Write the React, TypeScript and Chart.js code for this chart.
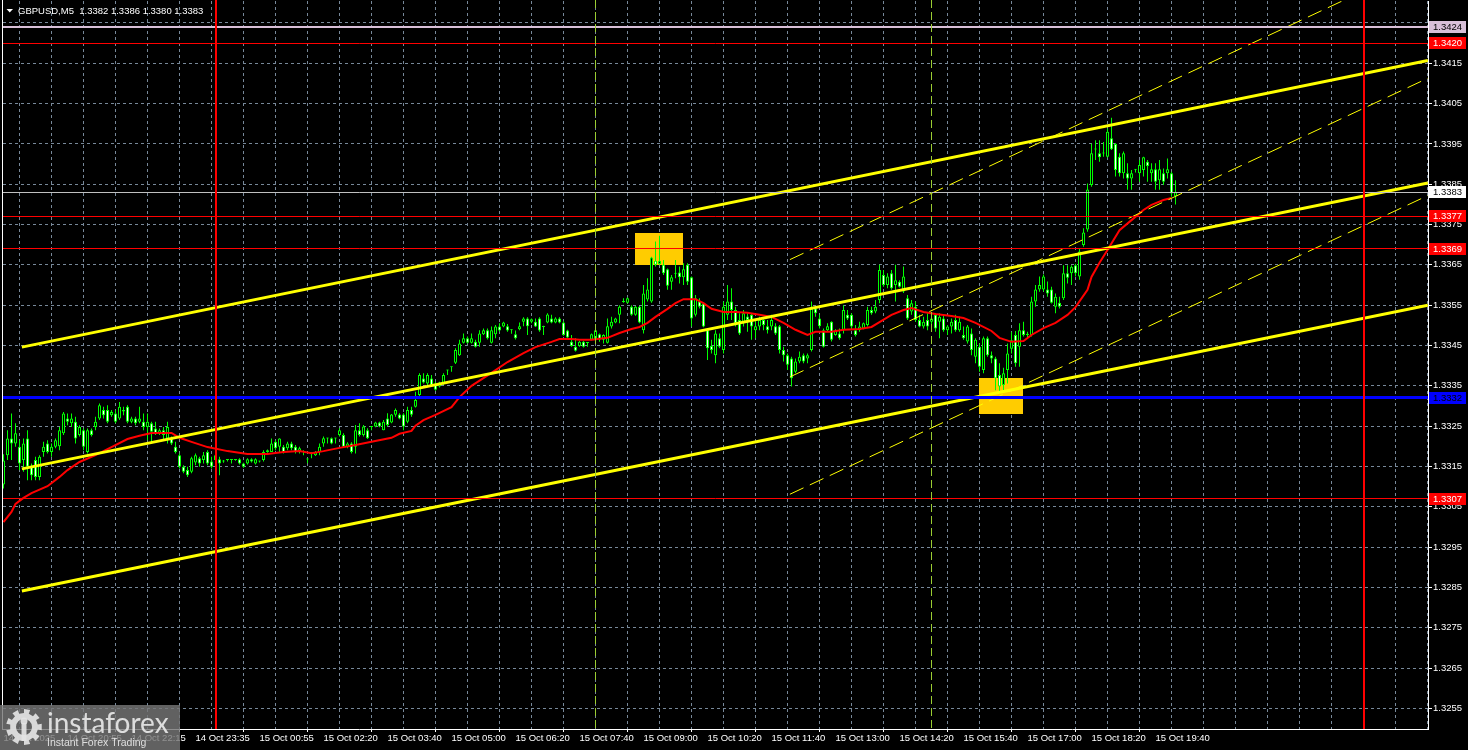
import React, { useEffect, useRef } from "react";
import { Chart, registerables } from "chart.js";

Chart.register(...registerables);

// ---------------- DATA ----------------
// GBPUSD M5 bars; bar index 0 = 14 Oct 23:35, first visible bar index = -48
const FIRST_BAR = -48;

const opens = [
  1.33105, 1.33178, 1.33219, 1.33207, 1.33199, 1.33166, 1.33219, 1.33149, 1.33166, 1.33124,
  1.33186, 1.33207, 1.33186, 1.33199, 1.33200, 1.33232, 1.33269, 1.33257, 1.33261, 1.33228,
  1.33240, 1.33186, 1.33240, 1.33248, 1.33269, 1.33290, 1.33290, 1.33277, 1.33281, 1.33269,
  1.33290, 1.33298, 1.33261, 1.33269, 1.33261, 1.33261, 1.33248, 1.33257, 1.33244, 1.33232,
  1.33240, 1.33219, 1.33219, 1.33199, 1.33178, 1.33149, 1.33141, 1.33137, 1.33160, 1.33170,
  1.33166, 1.33186, 1.33162, 1.33166, 1.33168, 1.33162, 1.33166, 1.33166, 1.33166, 1.33168,
  1.33157, 1.33157, 1.33168, 1.33157, 1.33162, 1.33166, 1.33186, 1.33186, 1.33211, 1.33199,
  1.33199, 1.33195, 1.33207, 1.33199, 1.33186, 1.33187, 1.33168, 1.33180, 1.33178, 1.33186,
  1.33207, 1.33220, 1.33220, 1.33219, 1.33228, 1.33228, 1.33199, 1.33207, 1.33199, 1.33240,
  1.33228, 1.33240, 1.33248, 1.33249, 1.33259, 1.33240, 1.33269, 1.33259, 1.33278, 1.33279,
  1.33279, 1.33261, 1.33290, 1.33298, 1.33327, 1.33368, 1.33356, 1.33368, 1.33356, 1.33348,
  1.33356, 1.33388, 1.33396, 1.33407, 1.33426, 1.33457, 1.33468, 1.33457, 1.33459, 1.33457,
  1.33478, 1.33488, 1.33457, 1.33478, 1.33497, 1.33497, 1.33498, 1.33488, 1.33478, 1.33490,
  1.33509, 1.33517, 1.33509, 1.33509, 1.33517, 1.33496, 1.33507, 1.33517, 1.33507, 1.33517,
  1.33507, 1.33487, 1.33459, 1.33447, 1.33449, 1.33459, 1.33456, 1.33465, 1.33465, 1.33478,
  1.33464, 1.33457, 1.33497, 1.33507, 1.33526, 1.33558, 1.33556, 1.33546, 1.33526, 1.33546,
  1.33488, 1.33564, 1.33559, 1.33660, 1.33652, 1.33650, 1.33639, 1.33608, 1.33628, 1.33631,
  1.33619, 1.33650, 1.33619, 1.33526, 1.33559, 1.33554, 1.33488, 1.33449, 1.33426, 1.33468,
  1.33439, 1.33526, 1.33559, 1.33538, 1.33513, 1.33505, 1.33522, 1.33526, 1.33488, 1.33497,
  1.33513, 1.33498, 1.33497, 1.33498, 1.33498, 1.33439, 1.33426, 1.33418, 1.33385, 1.33410,
  1.33426, 1.33418, 1.33439, 1.33542, 1.33517, 1.33488, 1.33488, 1.33509, 1.33476, 1.33480,
  1.33488, 1.33526, 1.33526, 1.33488, 1.33488, 1.33492, 1.33501, 1.33538, 1.33534, 1.33563,
  1.33625, 1.33600, 1.33629, 1.33600, 1.33608, 1.33584, 1.33567, 1.33534, 1.33546, 1.33513,
  1.33497, 1.33513, 1.33509, 1.33526, 1.33509, 1.33517, 1.33488, 1.33497, 1.33513, 1.33488,
  1.33476, 1.33460, 1.33480, 1.33422, 1.33447, 1.33389, 1.33468, 1.33426, 1.33418, 1.33377,
  1.33352, 1.33389, 1.33442, 1.33476, 1.33447, 1.33488, 1.33476, 1.33476, 1.33559, 1.33589,
  1.33589, 1.33589, 1.33589, 1.33546, 1.33556, 1.33567, 1.33629, 1.33629, 1.33649, 1.33621,
  1.33699, 1.33738, 1.33848, 1.33936, 1.33927, 1.33926, 1.33918, 1.33964, 1.33950, 1.33918,
  1.33877, 1.33877, 1.33864, 1.33886, 1.33877, 1.33885, 1.33906, 1.33877, 1.33887, 1.33860,
  1.33877, 1.33877, 1.33877, 1.33820,
];

const highs = [
  1.33180, 1.33240, 1.33281, 1.33257, 1.33215, 1.33219, 1.33240, 1.33157, 1.33174, 1.33178,
  1.33211, 1.33215, 1.33207, 1.33219, 1.33248, 1.33285, 1.33281, 1.33281, 1.33273, 1.33252,
  1.33244, 1.33244, 1.33244, 1.33273, 1.33306, 1.33298, 1.33302, 1.33290, 1.33290, 1.33310,
  1.33298, 1.33302, 1.33273, 1.33273, 1.33298, 1.33281, 1.33281, 1.33261, 1.33261, 1.33244,
  1.33248, 1.33261, 1.33224, 1.33211, 1.33182, 1.33153, 1.33149, 1.33174, 1.33182, 1.33174,
  1.33186, 1.33190, 1.33174, 1.33182, 1.33174, 1.33166, 1.33168, 1.33168, 1.33168, 1.33170,
  1.33159, 1.33170, 1.33170, 1.33170, 1.33164, 1.33190, 1.33192, 1.33219, 1.33215, 1.33220,
  1.33203, 1.33211, 1.33211, 1.33203, 1.33199, 1.33190, 1.33170, 1.33186, 1.33188, 1.33207,
  1.33224, 1.33221, 1.33222, 1.33221, 1.33245, 1.33232, 1.33210, 1.33210, 1.33253, 1.33257,
  1.33253, 1.33245, 1.33250, 1.33261, 1.33261, 1.33265, 1.33282, 1.33280, 1.33294, 1.33282,
  1.33282, 1.33298, 1.33298, 1.33335, 1.33381, 1.33381, 1.33381, 1.33377, 1.33360, 1.33360,
  1.33381, 1.33390, 1.33398, 1.33443, 1.33464, 1.33480, 1.33472, 1.33480, 1.33464, 1.33488,
  1.33492, 1.33492, 1.33497, 1.33501, 1.33505, 1.33509, 1.33503, 1.33490, 1.33487, 1.33507,
  1.33520, 1.33520, 1.33517, 1.33517, 1.33520, 1.33499, 1.33530, 1.33526, 1.33520, 1.33520,
  1.33510, 1.33489, 1.33476, 1.33468, 1.33461, 1.33461, 1.33458, 1.33480, 1.33490, 1.33480,
  1.33478, 1.33517, 1.33521, 1.33519, 1.33550, 1.33567, 1.33569, 1.33550, 1.33548, 1.33548,
  1.33600, 1.33617, 1.33670, 1.33708, 1.33722, 1.33662, 1.33641, 1.33625, 1.33662, 1.33646,
  1.33654, 1.33654, 1.33621, 1.33575, 1.33567, 1.33556, 1.33492, 1.33464, 1.33488, 1.33480,
  1.33559, 1.33600, 1.33592, 1.33546, 1.33530, 1.33538, 1.33530, 1.33530, 1.33513, 1.33521,
  1.33515, 1.33513, 1.33526, 1.33505, 1.33501, 1.33447, 1.33430, 1.33422, 1.33418, 1.33435,
  1.33430, 1.33430, 1.33559, 1.33546, 1.33526, 1.33492, 1.33505, 1.33510, 1.33490, 1.33492,
  1.33550, 1.33538, 1.33530, 1.33501, 1.33509, 1.33507, 1.33546, 1.33546, 1.33563, 1.33650,
  1.33637, 1.33629, 1.33637, 1.33650, 1.33612, 1.33646, 1.33575, 1.33563, 1.33559, 1.33526,
  1.33521, 1.33530, 1.33526, 1.33530, 1.33530, 1.33526, 1.33501, 1.33517, 1.33526, 1.33521,
  1.33497, 1.33501, 1.33492, 1.33468, 1.33455, 1.33472, 1.33472, 1.33435, 1.33422, 1.33406,
  1.33395, 1.33455, 1.33484, 1.33486, 1.33505, 1.33509, 1.33484, 1.33571, 1.33600, 1.33621,
  1.33626, 1.33609, 1.33596, 1.33579, 1.33571, 1.33649, 1.33649, 1.33649, 1.33653, 1.33691,
  1.33741, 1.33852, 1.33951, 1.33959, 1.33959, 1.33955, 1.33988, 1.34015, 1.33952, 1.33927,
  1.33931, 1.33902, 1.33885, 1.33888, 1.33910, 1.33918, 1.33910, 1.33902, 1.33902, 1.33910,
  1.33889, 1.33914, 1.33881, 1.33860,
];

const lows = [
  1.33095, 1.33166, 1.33166, 1.33199, 1.33141, 1.33137, 1.33116, 1.33116, 1.33116, 1.33116,
  1.33174, 1.33182, 1.33174, 1.33195, 1.33190, 1.33228, 1.33252, 1.33248, 1.33207, 1.33224,
  1.33190, 1.33182, 1.33224, 1.33240, 1.33265, 1.33269, 1.33257, 1.33273, 1.33257, 1.33265,
  1.33277, 1.33257, 1.33257, 1.33252, 1.33257, 1.33240, 1.33215, 1.33207, 1.33228, 1.33228,
  1.33215, 1.33207, 1.33203, 1.33182, 1.33145, 1.33133, 1.33124, 1.33133, 1.33153, 1.33149,
  1.33157, 1.33153, 1.33145, 1.33141, 1.33128, 1.33159, 1.33162, 1.33157, 1.33164, 1.33155,
  1.33147, 1.33155, 1.33160, 1.33155, 1.33160, 1.33162, 1.33184, 1.33186, 1.33190, 1.33186,
  1.33182, 1.33190, 1.33190, 1.33182, 1.33182, 1.33178, 1.33158, 1.33170, 1.33176, 1.33178,
  1.33199, 1.33207, 1.33205, 1.33207, 1.33224, 1.33197, 1.33195, 1.33182, 1.33182, 1.33224,
  1.33224, 1.33218, 1.33240, 1.33247, 1.33247, 1.33240, 1.33249, 1.33257, 1.33273, 1.33267,
  1.33240, 1.33257, 1.33273, 1.33296, 1.33323, 1.33356, 1.33352, 1.33348, 1.33338, 1.33346,
  1.33352, 1.33377, 1.33385, 1.33404, 1.33424, 1.33455, 1.33455, 1.33455, 1.33445, 1.33447,
  1.33476, 1.33465, 1.33455, 1.33468, 1.33485, 1.33495, 1.33484, 1.33479, 1.33465, 1.33488,
  1.33498, 1.33476, 1.33505, 1.33496, 1.33484, 1.33476, 1.33505, 1.33505, 1.33505, 1.33505,
  1.33474, 1.33465, 1.33447, 1.33435, 1.33447, 1.33445, 1.33447, 1.33463, 1.33455, 1.33459,
  1.33455, 1.33455, 1.33492, 1.33505, 1.33505, 1.33556, 1.33554, 1.33524, 1.33524, 1.33505,
  1.33480, 1.33559, 1.33556, 1.33646, 1.33650, 1.33625, 1.33588, 1.33588, 1.33617, 1.33604,
  1.33600, 1.33600, 1.33497, 1.33522, 1.33542, 1.33495, 1.33414, 1.33430, 1.33406, 1.33443,
  1.33430, 1.33513, 1.33513, 1.33497, 1.33476, 1.33497, 1.33484, 1.33464, 1.33468, 1.33488,
  1.33488, 1.33480, 1.33488, 1.33476, 1.33430, 1.33410, 1.33389, 1.33348, 1.33381, 1.33406,
  1.33406, 1.33406, 1.33435, 1.33521, 1.33492, 1.33445, 1.33484, 1.33460, 1.33474, 1.33464,
  1.33480, 1.33513, 1.33488, 1.33472, 1.33484, 1.33490, 1.33497, 1.33526, 1.33530, 1.33555,
  1.33596, 1.33592, 1.33588, 1.33559, 1.33594, 1.33580, 1.33513, 1.33526, 1.33509, 1.33495,
  1.33492, 1.33488, 1.33488, 1.33484, 1.33468, 1.33484, 1.33476, 1.33480, 1.33484, 1.33484,
  1.33464, 1.33455, 1.33426, 1.33406, 1.33385, 1.33381, 1.33422, 1.33406, 1.33339, 1.33331,
  1.33335, 1.33356, 1.33430, 1.33397, 1.33397, 1.33472, 1.33468, 1.33472, 1.33546, 1.33583,
  1.33584, 1.33571, 1.33554, 1.33530, 1.33542, 1.33563, 1.33604, 1.33600, 1.33621, 1.33613,
  1.33695, 1.33732, 1.33844, 1.33910, 1.33906, 1.33918, 1.33916, 1.33935, 1.33869, 1.33869,
  1.33864, 1.33836, 1.33836, 1.33879, 1.33856, 1.33869, 1.33856, 1.33856, 1.33836, 1.33836,
  1.33848, 1.33864, 1.33819, 1.33800,
];

const closes = [
  1.33165, 1.33219, 1.33207, 1.33232, 1.33157, 1.33207, 1.33149, 1.33128, 1.33124, 1.33174,
  1.33199, 1.33186, 1.33199, 1.33215, 1.33240, 1.33281, 1.33261, 1.33269, 1.33219, 1.33248,
  1.33199, 1.33240, 1.33228, 1.33261, 1.33302, 1.33277, 1.33261, 1.33285, 1.33261, 1.33298,
  1.33286, 1.33261, 1.33269, 1.33257, 1.33269, 1.33248, 1.33261, 1.33236, 1.33232, 1.33240,
  1.33228, 1.33248, 1.33207, 1.33186, 1.33149, 1.33137, 1.33128, 1.33170, 1.33178, 1.33157,
  1.33178, 1.33157, 1.33149, 1.33178, 1.33157, 1.33162, 1.33166, 1.33166, 1.33166, 1.33157,
  1.33149, 1.33168, 1.33162, 1.33168, 1.33162, 1.33186, 1.33190, 1.33207, 1.33195, 1.33219,
  1.33186, 1.33207, 1.33195, 1.33186, 1.33195, 1.33186, 1.33167, 1.33182, 1.33186, 1.33199,
  1.33220, 1.33219, 1.33207, 1.33220, 1.33240, 1.33199, 1.33207, 1.33186, 1.33240, 1.33228,
  1.33249, 1.33220, 1.33249, 1.33259, 1.33249, 1.33261, 1.33253, 1.33279, 1.33290, 1.33269,
  1.33249, 1.33290, 1.33278, 1.33315, 1.33377, 1.33358, 1.33377, 1.33352, 1.33340, 1.33358,
  1.33377, 1.33389, 1.33397, 1.33439, 1.33455, 1.33468, 1.33457, 1.33468, 1.33447, 1.33480,
  1.33488, 1.33468, 1.33488, 1.33497, 1.33487, 1.33507, 1.33487, 1.33489, 1.33468, 1.33498,
  1.33517, 1.33498, 1.33515, 1.33497, 1.33487, 1.33497, 1.33527, 1.33507, 1.33517, 1.33507,
  1.33476, 1.33470, 1.33449, 1.33437, 1.33459, 1.33447, 1.33457, 1.33478, 1.33488, 1.33465,
  1.33476, 1.33498, 1.33509, 1.33517, 1.33546, 1.33559, 1.33567, 1.33526, 1.33546, 1.33507,
  1.33579, 1.33589, 1.33668, 1.33650, 1.33660, 1.33629, 1.33598, 1.33619, 1.33629, 1.33619,
  1.33639, 1.33608, 1.33517, 1.33567, 1.33546, 1.33497, 1.33443, 1.33439, 1.33480, 1.33447,
  1.33546, 1.33559, 1.33538, 1.33505, 1.33480, 1.33530, 1.33513, 1.33497, 1.33498, 1.33513,
  1.33501, 1.33488, 1.33513, 1.33480, 1.33439, 1.33426, 1.33402, 1.33369, 1.33410, 1.33422,
  1.33410, 1.33426, 1.33542, 1.33530, 1.33498, 1.33447, 1.33498, 1.33464, 1.33488, 1.33468,
  1.33538, 1.33517, 1.33497, 1.33476, 1.33497, 1.33505, 1.33538, 1.33530, 1.33546, 1.33637,
  1.33600, 1.33621, 1.33592, 1.33612, 1.33596, 1.33621, 1.33517, 1.33555, 1.33513, 1.33497,
  1.33509, 1.33497, 1.33517, 1.33492, 1.33521, 1.33488, 1.33497, 1.33509, 1.33488, 1.33509,
  1.33468, 1.33497, 1.33439, 1.33464, 1.33397, 1.33468, 1.33426, 1.33418, 1.33369, 1.33348,
  1.33381, 1.33430, 1.33463, 1.33406, 1.33488, 1.33476, 1.33479, 1.33559, 1.33589, 1.33600,
  1.33621, 1.33579, 1.33556, 1.33571, 1.33546, 1.33629, 1.33618, 1.33645, 1.33629, 1.33683,
  1.33730, 1.33837, 1.33927, 1.33937, 1.33917, 1.33927, 1.33980, 1.33937, 1.33885, 1.33877,
  1.33927, 1.33864, 1.33877, 1.33887, 1.33898, 1.33917, 1.33895, 1.33887, 1.33856, 1.33887,
  1.33856, 1.33887, 1.33827, 1.33830,
];

// Moving average (red line) at these bar positions
const maBars = [
  -48, -46, -45, -43, -41, -37, -34, -32, -29, -25,
  -21, -17, -14, -11, -6, -4, -1, 3, 8, 13,
  18, 22, 26, 29, 32, 36, 40, 44, 49, 51,
  54, 55, 57, 60, 64, 66, 69, 74, 78, 82,
  85, 89, 91, 94, 96, 99, 103, 106, 109, 111,
  113, 115, 118, 120, 122, 125, 127, 129, 132, 135,
  138, 141, 144, 147, 150, 153, 155, 159, 162, 166,
  169, 171, 174, 177, 179, 182, 185, 189, 192, 195,
  199, 201, 204, 207, 209, 212, 215, 218, 220, 223,
  224, 226, 228, 231, 234, 237, 239, 242, 244,
];
const maValues = [
  1.33012, 1.33037, 1.33057, 1.33072, 1.33084, 1.33101, 1.33124, 1.33141, 1.33161, 1.33178,
  1.33198, 1.33218, 1.33226, 1.33233, 1.33233, 1.33221, 1.33211, 1.33198, 1.33188, 1.33181,
  1.33181, 1.33186, 1.33188, 1.33183, 1.33188, 1.33196, 1.33203, 1.33211, 1.33221, 1.33231,
  1.33238, 1.33251, 1.33265, 1.33278, 1.33297, 1.33322, 1.33350, 1.33382, 1.33409, 1.33431,
  1.33446, 1.33459, 1.33466, 1.33466, 1.33464, 1.33464, 1.33469, 1.33481, 1.33491, 1.33496,
  1.33506, 1.33521, 1.33541, 1.33555, 1.33565, 1.33565, 1.33555, 1.33541, 1.33533, 1.33533,
  1.33531, 1.33526, 1.33521, 1.33506, 1.33489, 1.33476, 1.33484, 1.33484, 1.33489, 1.33491,
  1.33496, 1.33508, 1.33526, 1.33538, 1.33543, 1.33533, 1.33528, 1.33523, 1.33518, 1.33506,
  1.33486, 1.33469, 1.33459, 1.33461, 1.33476, 1.33493, 1.33506, 1.33526, 1.33545, 1.33588,
  1.33620, 1.33655, 1.33687, 1.33736, 1.33761, 1.33786, 1.33799, 1.33811, 1.33816,
];

// Time axis labels (every 16 bars)
const timeLabelBars = [-48, -32, -16, 0, 16, 32, 48, 64, 80, 96, 112, 128, 144, 160, 176, 192, 208, 224, 240];
const timeLabels = [
  "14 Oct 2025", "14 Oct 20:55", "14 Oct 22:15", "14 Oct 23:35", "15 Oct 00:55",
  "15 Oct 02:20", "15 Oct 03:40", "15 Oct 05:00", "15 Oct 06:20", "15 Oct 07:40",
  "15 Oct 09:00", "15 Oct 10:20", "15 Oct 11:40", "15 Oct 13:00", "15 Oct 14:20",
  "15 Oct 15:40", "15 Oct 17:00", "15 Oct 18:20", "15 Oct 19:40",
];

// Price axis ticks
const priceTicks = [
  1.3255, 1.3265, 1.3275, 1.3285, 1.3295, 1.3305, 1.3315, 1.3325, 1.3335,
  1.3345, 1.3355, 1.3365, 1.3375, 1.3385, 1.3395, 1.3405, 1.3415, 1.3425,
];

// Horizontal levels with price tags
const levelPrices = [1.3424, 1.342, 1.3383, 1.3377, 1.3369, 1.3332, 1.3307];

// Trend channel (thick): from bar / to bar and prices
const channelBars = [-43.4, 308.1];
const channelStartPrices = [1.33446, 1.33144, 1.32841];
const channelEndPrices = [1.34157, 1.33853, 1.3355];
// Thin dashed channel
const dashChannelBars = [148.6, 308.1];
const dashStartPrices = [1.33663, 1.33372, 1.33081];
const dashEndPrices = [1.34404, 1.34113, 1.33822];

// Vertical markers (bar index)
const dayLineBars = [5, 292];
const sessionLineBars = [100, 184];

// Signal boxes
const boxFromBars = [109.9, 195.9];
const boxToBars = [121.9, 206.8];
const boxLowPrices = [1.3365, 1.33281];
const boxHighPrices = [1.3373, 1.3337];

const headerSymbol = "GBPUSD,M5";
const headerOHLC = [1.3382, 1.3386, 1.338, 1.3383];

// ---------------- STYLE ----------------
const FONT_FAMILY = '"Liberation Sans", Arial, sans-serif';
const FONT_SIZE = 9.5;
const GRID_COLOR = "#778899";
const LIME = "#00FF00";
const levelColors = ["#D8BFD8", "#FF0000", "#C0C0C0", "#FF0000", "#FF0000", "#0000FF", "#FF0000"];
const levelWidths = [2, 1, 1, 1, 1, 3, 1];
const tagColors = ["#D8BFD8", "#FF0000", "#FFFFFF", "#FF0000", "#FF0000", "#0000FF", "#FF0000"];
const tagTextColors = ["#000000", "#FFFFFF", "#000000", "#FFFFFF", "#FFFFFF", "#000000", "#FFFFFF"];

const overlayPlugin = {
  id: "mt4Overlay",
  beforeDraw(chart: any) {
    const { ctx, width, height } = chart;
    ctx.save();
    ctx.fillStyle = "#000000";
    ctx.fillRect(0, 0, width, height);
    ctx.restore();
  },
  beforeDatasetsDraw(chart: any) {
    const { ctx, chartArea: a, scales } = chart;
    const xs = scales.x;
    const ys = scales.y;
    ctx.save();
    ctx.beginPath();
    ctx.rect(a.left, a.top, a.right - a.left, a.bottom - a.top);
    ctx.clip();
    ctx.fillStyle = "#FFCC00";
    boxFromBars.forEach((b, k) => {
      const x0 = Math.round(xs.getPixelForValue(b));
      const x1 = Math.round(xs.getPixelForValue(boxToBars[k]));
      const y0 = Math.round(ys.getPixelForValue(boxHighPrices[k]));
      const y1 = Math.round(ys.getPixelForValue(boxLowPrices[k]));
      ctx.fillRect(x0, y0, x1 - x0, y1 - y0);
    });
    ctx.restore();
  },
  afterDatasetsDraw(chart: any) {
    const { ctx, chartArea: a, scales } = chart;
    const xs = scales.x;
    const ys = scales.y;
    ctx.save();
    ctx.beginPath();
    ctx.rect(a.left, 0, a.right - a.left, a.bottom);
    ctx.clip();
    levelPrices.forEach((p, k) => {
      const w = levelWidths[k];
      const py = ys.getPixelForValue(p);
      const yy = w % 2 === 1 ? Math.round(py - 0.5) + 0.5 : Math.round(py);
      ctx.strokeStyle = levelColors[k];
      ctx.lineWidth = w;
      ctx.setLineDash([]);
      ctx.beginPath();
      ctx.moveTo(a.left, yy);
      ctx.lineTo(a.right, yy);
      ctx.stroke();
    });
    sessionLineBars.forEach((b) => {
      const px = Math.floor(xs.getPixelForValue(b)) + 0.5;
      ctx.strokeStyle = "#9ACD32";
      ctx.lineWidth = 1;
      ctx.setLineDash([8, 4]);
      ctx.beginPath();
      ctx.moveTo(px, 0);
      ctx.lineTo(px, a.bottom);
      ctx.stroke();
    });
    dayLineBars.forEach((b) => {
      const px = Math.round(xs.getPixelForValue(b));
      ctx.fillStyle = "#FF0000";
      ctx.fillRect(px - 1, 0, 2, a.bottom);
    });
    ctx.restore();
    ctx.save();
    ctx.strokeStyle = "#FFFFFF";
    ctx.lineWidth = 1;
    ctx.beginPath();
    ctx.moveTo(a.left - 0.5, 0);
    ctx.lineTo(a.left - 0.5, a.bottom + 1);
    ctx.stroke();
    ctx.restore();
  },
  afterDraw(chart: any) {
    const { ctx, chartArea: a, scales } = chart;
    const ys = scales.y;
    ctx.save();
    ctx.font = `${FONT_SIZE}px ${FONT_FAMILY}`;
    ctx.textAlign = "left";
    ctx.textBaseline = "middle";
    levelPrices.forEach((p, k) => {
      const py = Math.round(ys.getPixelForValue(p));
      ctx.fillStyle = tagColors[k];
      ctx.fillRect(a.right + 1, py - 6, 37, 12);
      ctx.fillStyle = tagTextColors[k];
      ctx.fillText(p.toFixed(4), a.right + 5, py + 0.5);
    });
    ctx.fillStyle = "#FFFFFF";
    ctx.beginPath();
    ctx.moveTo(6.5, 9);
    ctx.lineTo(13, 9);
    ctx.lineTo(9.75, 12.5);
    ctx.closePath();
    ctx.fill();
    ctx.textBaseline = "alphabetic";
    ctx.fillText(`${headerSymbol}  ${headerOHLC.map((v) => v.toFixed(4)).join(" ")}`, 18, 14);

    ctx.fillStyle = "rgba(118,118,118,0.82)";
    ctx.fillRect(0, 705, 180, 45);
    ctx.save();
    ctx.translate(24, 727);
    ctx.fillStyle = "rgba(228,228,228,0.92)";
    ctx.beginPath();
    const teeth = 9;
    for (let k = 0; k < teeth * 2; k++) {
      const ang = (k * Math.PI) / teeth;
      const r = k % 2 === 0 ? 18 : 14;
      const a0 = ang - Math.PI / (teeth * 2);
      const a1 = ang + Math.PI / (teeth * 2);
      if (k === 0) ctx.moveTo(Math.cos(a0) * r, Math.sin(a0) * r);
      else ctx.lineTo(Math.cos(a0) * r, Math.sin(a0) * r);
      ctx.lineTo(Math.cos(a1) * r, Math.sin(a1) * r);
    }
    ctx.closePath();
    ctx.moveTo(8, 0);
    ctx.arc(0, 0, 8, 0, Math.PI * 2, true);
    ctx.fill("evenodd");
    ctx.fillRect(-2.5, -4, 5, 18);
    ctx.beginPath();
    ctx.arc(0, -6, 3.5, 0, Math.PI * 2);
    ctx.fill();
    ctx.restore();
    ctx.fillStyle = "rgba(232,232,232,0.92)";
    ctx.font = `28px Lato, "Open Sans", sans-serif`;
    ctx.fillText("instaforex", 47, 733);
    ctx.font = `10.5px ${FONT_FAMILY}`;
    ctx.fillText("Instant Forex Trading", 47, 746);
    ctx.restore();
  },
};

export default function App() {
  const canvasRef = useRef<HTMLCanvasElement | null>(null);

  useEffect(() => {
    const canvas = canvasRef.current;
    if (!canvas) return;
    const bars = opens.map((_, k) => FIRST_BAR + k);
    const wickData = bars.map((b, k) => ({ x: b, y: [lows[k], highs[k]] }));
    const bodyData = bars.map((b, k) => ({ x: b, y: [opens[k], closes[k]] }));
    const bodyFill = bars.map((_, k) => (closes[k] >= opens[k] ? "#000000" : "#FFFFFF"));
    const maData = maBars.map((b, k) => ({ x: b, y: maValues[k] }));

    const thick = channelStartPrices.map((p, k) => ({
      type: "line" as const,
      data: [
        { x: channelBars[0], y: p },
        { x: channelBars[1], y: channelEndPrices[k] },
      ],
      borderColor: "#FFFF00",
      borderWidth: 3,
      pointRadius: 0,
      tension: 0,
      fill: false,
      order: 2,
    }));
    const thin = dashStartPrices.map((p, k) => ({
      type: "line" as const,
      data: [
        { x: dashChannelBars[0], y: p },
        { x: dashChannelBars[1], y: dashEndPrices[k] },
      ],
      borderColor: "#FFFF00",
      borderWidth: 1,
      borderDash: [15, 7],
      pointRadius: 0,
      tension: 0,
      fill: false,
      order: 3,
    }));

    const font = { family: FONT_FAMILY, size: FONT_SIZE };

    const chart = new Chart(canvas, {
      type: "bar",
      data: {
        datasets: [
          {
            type: "bar",
            data: wickData as any,
            backgroundColor: LIME,
            borderWidth: 0,
            barThickness: 1,
            grouped: false,
            minBarLength: 1,
            inflateAmount: 0,
            order: 6,
          } as any,
          {
            type: "bar",
            data: bodyData as any,
            backgroundColor: bodyFill,
            borderColor: LIME,
            borderWidth: 1,
            borderSkipped: false,
            barThickness: 3,
            grouped: false,
            minBarLength: 1,
            inflateAmount: 0,
            order: 5,
          } as any,
          {
            type: "line",
            data: maData as any,
            borderColor: "#FF0000",
            borderWidth: 2,
            pointRadius: 0,
            tension: 0,
            fill: false,
            order: 4,
          } as any,
          ...(thin as any[]),
          ...(thick as any[]),
        ],
      },
      options: {
        animation: false,
        responsive: false,
        devicePixelRatio: 1,
        events: [],
        layout: { padding: { left: 3, top: 1, right: 0, bottom: 0 } },
        plugins: {
          legend: { display: false },
          tooltip: { enabled: false },
          title: { display: false },
        },
        scales: {
          x: {
            type: "linear",
            position: "bottom",
            min: -48.125,
            max: 308.125,
            offset: false,
            bounds: "data",
            afterBuildTicks: (s: any) => {
              const t: any[] = [];
              for (let v = -48; v <= 304; v += 8) t.push({ value: v });
              s.ticks = t;
            },
            afterFit: (s: any) => {
              s.height = 21;
              s.paddingLeft = 0;
              s.paddingRight = 0;
            },
            ticks: {
              autoSkip: false,
              maxRotation: 0,
              minRotation: 0,
              align: "start",
              padding: 1,
              color: "#FFFFFF",
              font,
              callback: (v: any) => {
                const k = timeLabelBars.indexOf(Number(v));
                return k >= 0 ? timeLabels[k] : "";
              },
            },
            grid: {
              color: GRID_COLOR,
              lineWidth: 1,
              drawTicks: true,
              tickLength: 3,
              tickBorderDash: [],
              tickColor: (c: any) =>
                c.tick && timeLabelBars.indexOf(c.tick.value) >= 0 ? "#FFFFFF" : "rgba(0,0,0,0)",
            },
            border: { display: true, color: "#FFFFFF", width: 1, dash: [3, 3] },
          } as any,
          y: {
            type: "linear",
            position: "right",
            min: 1.324987,
            max: 1.343045,
            bounds: "data",
            afterBuildTicks: (s: any) => {
              s.ticks = priceTicks.map((v) => ({ value: v }));
            },
            afterFit: (s: any) => {
              s.width = 40;
              s.paddingTop = 0;
              s.paddingBottom = 0;
            },
            ticks: {
              autoSkip: false,
              padding: 1,
              color: "#FFFFFF",
              font,
              callback: (v: any) => (Number(v) === 1.3425 ? "" : Number(v).toFixed(4)),
            },
            grid: {
              color: GRID_COLOR,
              lineWidth: 1,
              drawTicks: true,
              tickLength: 4,
              tickColor: "#FFFFFF",
              tickBorderDash: [],
            },
            border: { display: true, color: "#FFFFFF", width: 1, dash: [3, 3] },
          } as any,
        },
      } as any,
      plugins: [overlayPlugin as any],
    });

    return () => chart.destroy();
  }, []);

  return (
    <div
      style={{
        position: "fixed",
        left: 0,
        top: 0,
        width: 1468,
        height: 750,
        background: "#000000",
        overflow: "hidden",
      }}
    >
      <canvas
        ref={canvasRef}
        width={1468}
        height={750}
        style={{ display: "block", width: 1468, height: 750 }}
      />
    </div>
  );
}
